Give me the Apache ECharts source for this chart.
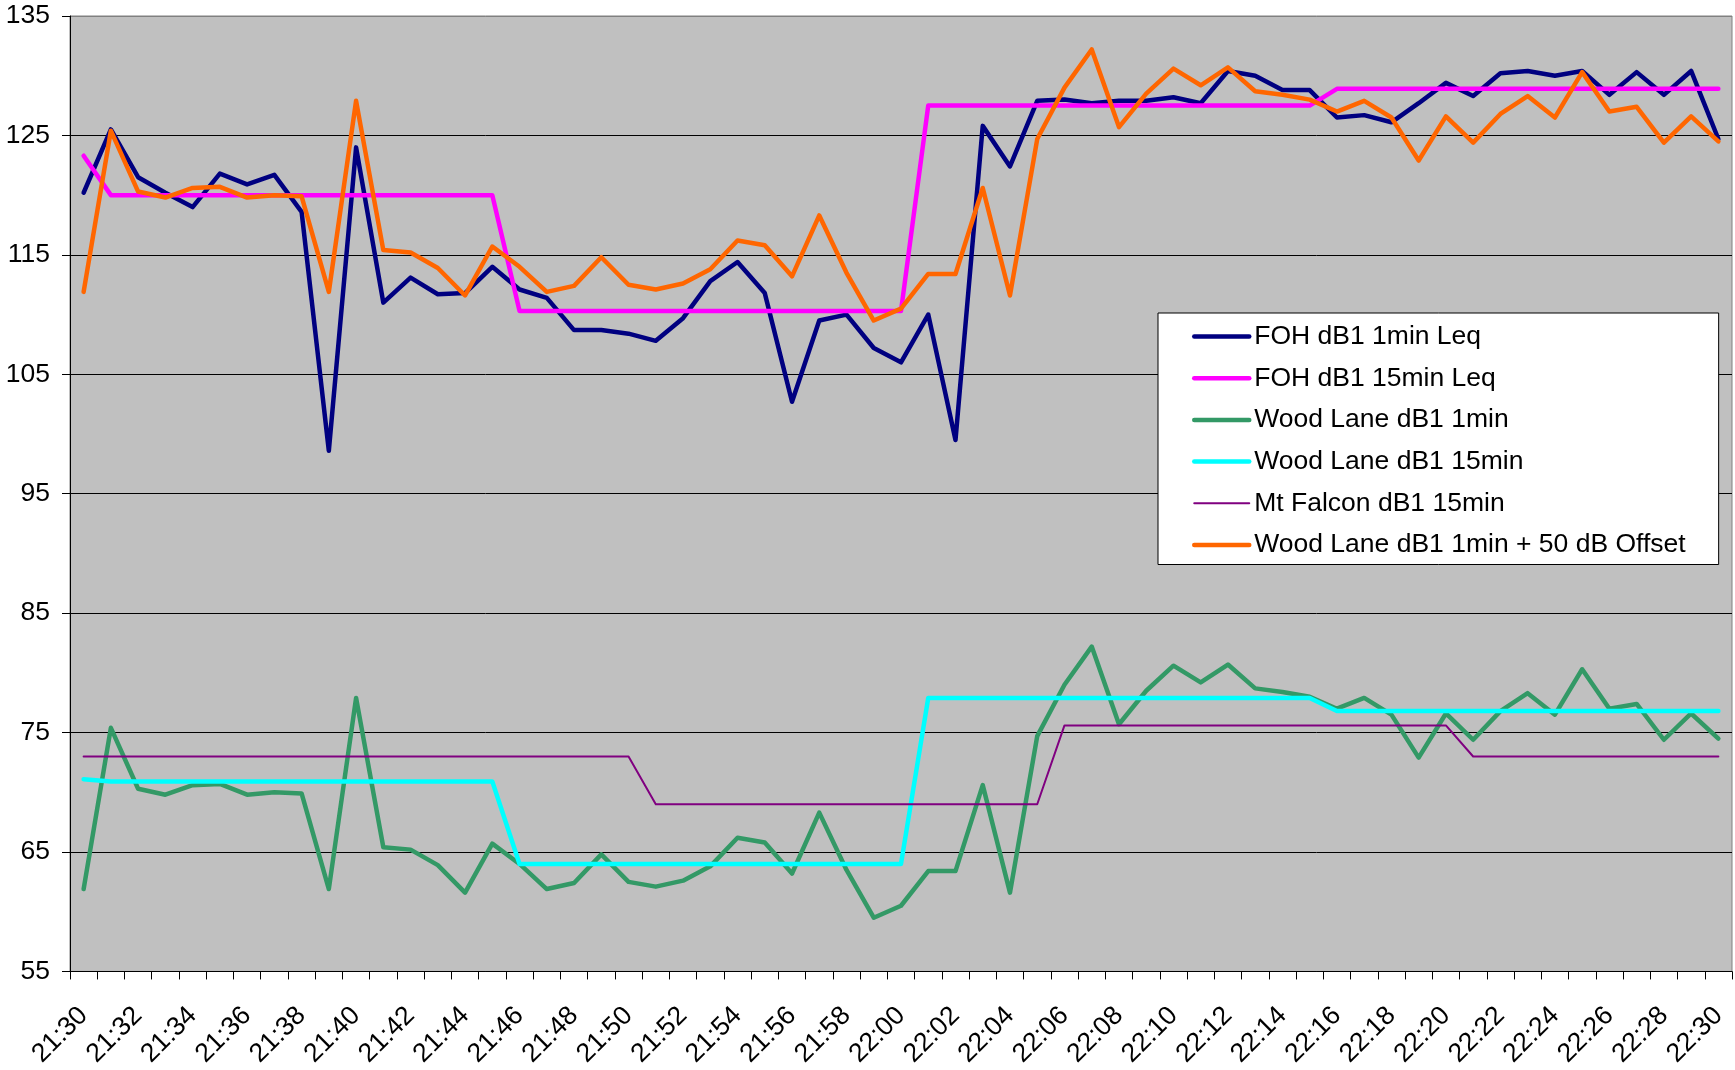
<!DOCTYPE html>
<html>
<head>
<meta charset="utf-8">
<title>Noise levels</title>
<script src="https://cdn.jsdelivr.net/npm/echarts@6/dist/echarts.min.js"></script>
<style>
    html, body { margin: 0; padding: 0; background: #fff; }
    #main { width: 1735px; height: 1070px; }
</style>
</head>
<body>
<div id="main"></div>
<script>
var times = ['21:30', '21:31', '21:32', '21:33', '21:34', '21:35', '21:36', '21:37', '21:38', '21:39',
    '21:40', '21:41', '21:42', '21:43', '21:44', '21:45', '21:46', '21:47', '21:48', '21:49',
    '21:50', '21:51', '21:52', '21:53', '21:54', '21:55', '21:56', '21:57', '21:58', '21:59',
    '22:00', '22:01', '22:02', '22:03', '22:04', '22:05', '22:06', '22:07', '22:08', '22:09',
    '22:10', '22:11', '22:12', '22:13', '22:14', '22:15', '22:16', '22:17', '22:18', '22:19',
    '22:20', '22:21', '22:22', '22:23', '22:24', '22:25', '22:26', '22:27', '22:28', '22:29',
    '22:30'];

// FOH dB1 1min Leq
var foh1 = [120.2, 125.5, 121.5, 120.2, 119.0, 121.8, 120.9, 121.7, 118.6, 98.6,
    124.0, 111.0, 113.1, 111.7, 111.8, 114.0, 112.1, 111.4, 108.7, 108.7,
    108.4, 107.8, 109.7, 112.8, 114.4, 111.8, 102.7, 109.5, 110.0, 107.2,
    106.0, 110.0, 99.5, 125.8, 122.4, 127.9, 128.0, 127.7, 127.9, 127.9,
    128.2, 127.7, 130.4, 130.0, 128.8, 128.8, 126.5, 126.7, 126.1, 127.7,
    129.4, 128.3, 130.2, 130.4, 130.0, 130.4, 128.4, 130.3, 128.4, 130.4,
    124.7];

// FOH dB1 15min Leq
var foh15 = [123.3, 120.0, 120.0, 120.0, 120.0, 120.0, 120.0, 120.0, 120.0, 120.0,
    120.0, 120.0, 120.0, 120.0, 120.0, 120.0, 110.3, 110.3, 110.3, 110.3,
    110.3, 110.3, 110.3, 110.3, 110.3, 110.3, 110.3, 110.3, 110.3, 110.3,
    110.3, 127.5, 127.5, 127.5, 127.5, 127.5, 127.5, 127.5, 127.5, 127.5,
    127.5, 127.5, 127.5, 127.5, 127.5, 127.5, 128.9, 128.9, 128.9, 128.9,
    128.9, 128.9, 128.9, 128.9, 128.9, 128.9, 128.9, 128.9, 128.9, 128.9,
    128.9];

// Wood Lane dB1 1min
var wood1 = [61.9, 75.4, 70.3, 69.8, 70.6, 70.7, 69.8, 70.0, 69.9, 61.9,
    77.9, 65.4, 65.2, 63.9, 61.6, 65.7, 64.0, 61.9, 62.4, 64.8,
    62.5, 62.1, 62.6, 63.8, 66.2, 65.8, 63.2, 68.3, 63.5, 59.5,
    60.5, 63.4, 63.4, 70.6, 61.6, 74.7, 79.0, 82.2, 75.7, 78.5,
    80.6, 79.2, 80.7, 78.7, 78.4, 78.0, 77.0, 77.9, 76.5, 72.9,
    76.6, 74.4, 76.8, 78.3, 76.5, 80.3, 77.0, 77.4, 74.4, 76.6,
    74.5];

// Wood Lane dB1 15min
var wood15 = [71.1, 70.9, 70.9, 70.9, 70.9, 70.9, 70.9, 70.9, 70.9, 70.9,
    70.9, 70.9, 70.9, 70.9, 70.9, 70.9, 64.0, 64.0, 64.0, 64.0,
    64.0, 64.0, 64.0, 64.0, 64.0, 64.0, 64.0, 64.0, 64.0, 64.0,
    64.0, 77.9, 77.9, 77.9, 77.9, 77.9, 77.9, 77.9, 77.9, 77.9,
    77.9, 77.9, 77.9, 77.9, 77.9, 77.9, 76.8, 76.8, 76.8, 76.8,
    76.8, 76.8, 76.8, 76.8, 76.8, 76.8, 76.8, 76.8, 76.8, 76.8,
    76.8];

// Mt Falcon dB1 15min
var falcon15 = [73.0, 73.0, 73.0, 73.0, 73.0, 73.0, 73.0, 73.0, 73.0, 73.0,
    73.0, 73.0, 73.0, 73.0, 73.0, 73.0, 73.0, 73.0, 73.0, 73.0,
    73.0, 69.0, 69.0, 69.0, 69.0, 69.0, 69.0, 69.0, 69.0, 69.0,
    69.0, 69.0, 69.0, 69.0, 69.0, 69.0, 75.6, 75.6, 75.6, 75.6,
    75.6, 75.6, 75.6, 75.6, 75.6, 75.6, 75.6, 75.6, 75.6, 75.6,
    75.6, 73.0, 73.0, 73.0, 73.0, 73.0, 73.0, 73.0, 73.0, 73.0,
    73.0];

// Wood Lane dB1 1min + 50 dB Offset
var woodOffset = [111.9, 125.4, 120.3, 119.8, 120.6, 120.7, 119.8, 120.0, 119.9, 111.9,
    127.9, 115.4, 115.2, 113.9, 111.6, 115.7, 114.0, 111.9, 112.4, 114.8,
    112.5, 112.1, 112.6, 113.8, 116.2, 115.8, 113.2, 118.3, 113.5, 109.5,
    110.5, 113.4, 113.4, 120.6, 111.6, 124.7, 129.0, 132.2, 125.7, 128.5,
    130.6, 129.2, 130.7, 128.7, 128.4, 128.0, 127.0, 127.9, 126.5, 122.9,
    126.6, 124.4, 126.8, 128.3, 126.5, 130.3, 127.0, 127.4, 124.4, 126.6,
    124.5];

var font = "'Liberation Sans', Arial, sans-serif";
var fontSize = 26.5;
// gridlines 55..135, the top one is the grey plot border
var gridColors = ['#000', '#000', '#000', '#000', '#000', '#000', '#000', '#000', '#808080'];

function lineSeries(name, data, color, width) {
    return {
        name: name,
        type: 'line',
        data: data,
        symbol: 'none',
        color: color,
        lineStyle: { color: color, width: width, join: 'round', cap: 'round' }
    };
}

var chart = echarts.init(document.getElementById('main'));
chart.setOption({
    animation: false,
    backgroundColor: '#fff',
    textStyle: { fontFamily: font },
    grid: {
        left: 70, right: 3, top: 16, bottom: 95,
        show: true,
        backgroundColor: '#C0C0C0',
        borderColor: '#808080',
        borderWidth: 1
    },
    legend: {
        orient: 'vertical',
        left: 1158,
        top: 313,
        padding: [10, 33, 6, 34],
        itemGap: 14.7,
        itemWidth: 55,
        itemHeight: 14,
        backgroundColor: '#fff',
        borderColor: '#000',
        borderWidth: 1,
        borderRadius: 0,
        itemStyle: { opacity: 0 },
        lineStyle: { width: 'inherit' },
        textStyle: { fontSize: fontSize, lineHeight: 24, color: '#000', fontFamily: font },
        data: ['FOH dB1 1min Leq', 'FOH dB1 15min Leq', 'Wood Lane dB1 1min',
            'Wood Lane dB1 15min', 'Mt Falcon dB1 15min', 'Wood Lane dB1 1min + 50 dB Offset']
    },
    xAxis: {
        type: 'category',
        data: times,
        boundaryGap: true,
        axisLine: { show: true, lineStyle: { color: '#000', width: 1 } },
        axisTick: { show: true, interval: 0, length: 8, lineStyle: { color: '#000' } },
        axisLabel: {
            interval: 1,
            rotate: 45,
            margin: 40,
            fontSize: fontSize,
            color: '#000',
            fontFamily: font
        },
        splitLine: { show: false }
    },
    yAxis: {
        type: 'value',
        min: 55,
        max: 135,
        interval: 10,
        axisLine: { show: true, lineStyle: { color: '#000', width: 1 } },
        axisTick: { show: true, length: 8, lineStyle: { color: '#000' } },
        axisLabel: { fontSize: fontSize, color: '#000', margin: 20, fontFamily: font },
        splitLine: { show: true, lineStyle: { color: gridColors, width: 1 } }
    },
    series: [
        lineSeries('FOH dB1 1min Leq', foh1, '#000080', 4.5),
        lineSeries('FOH dB1 15min Leq', foh15, '#FF00FF', 4.5),
        lineSeries('Wood Lane dB1 1min', wood1, '#339966', 4.5),
        lineSeries('Wood Lane dB1 15min', wood15, '#00FFFF', 4.5),
        lineSeries('Mt Falcon dB1 15min', falcon15, '#800080', 2),
        lineSeries('Wood Lane dB1 1min + 50 dB Offset', woodOffset, '#FF6600', 4.5)
    ]
});
</script>
</body>
</html>
